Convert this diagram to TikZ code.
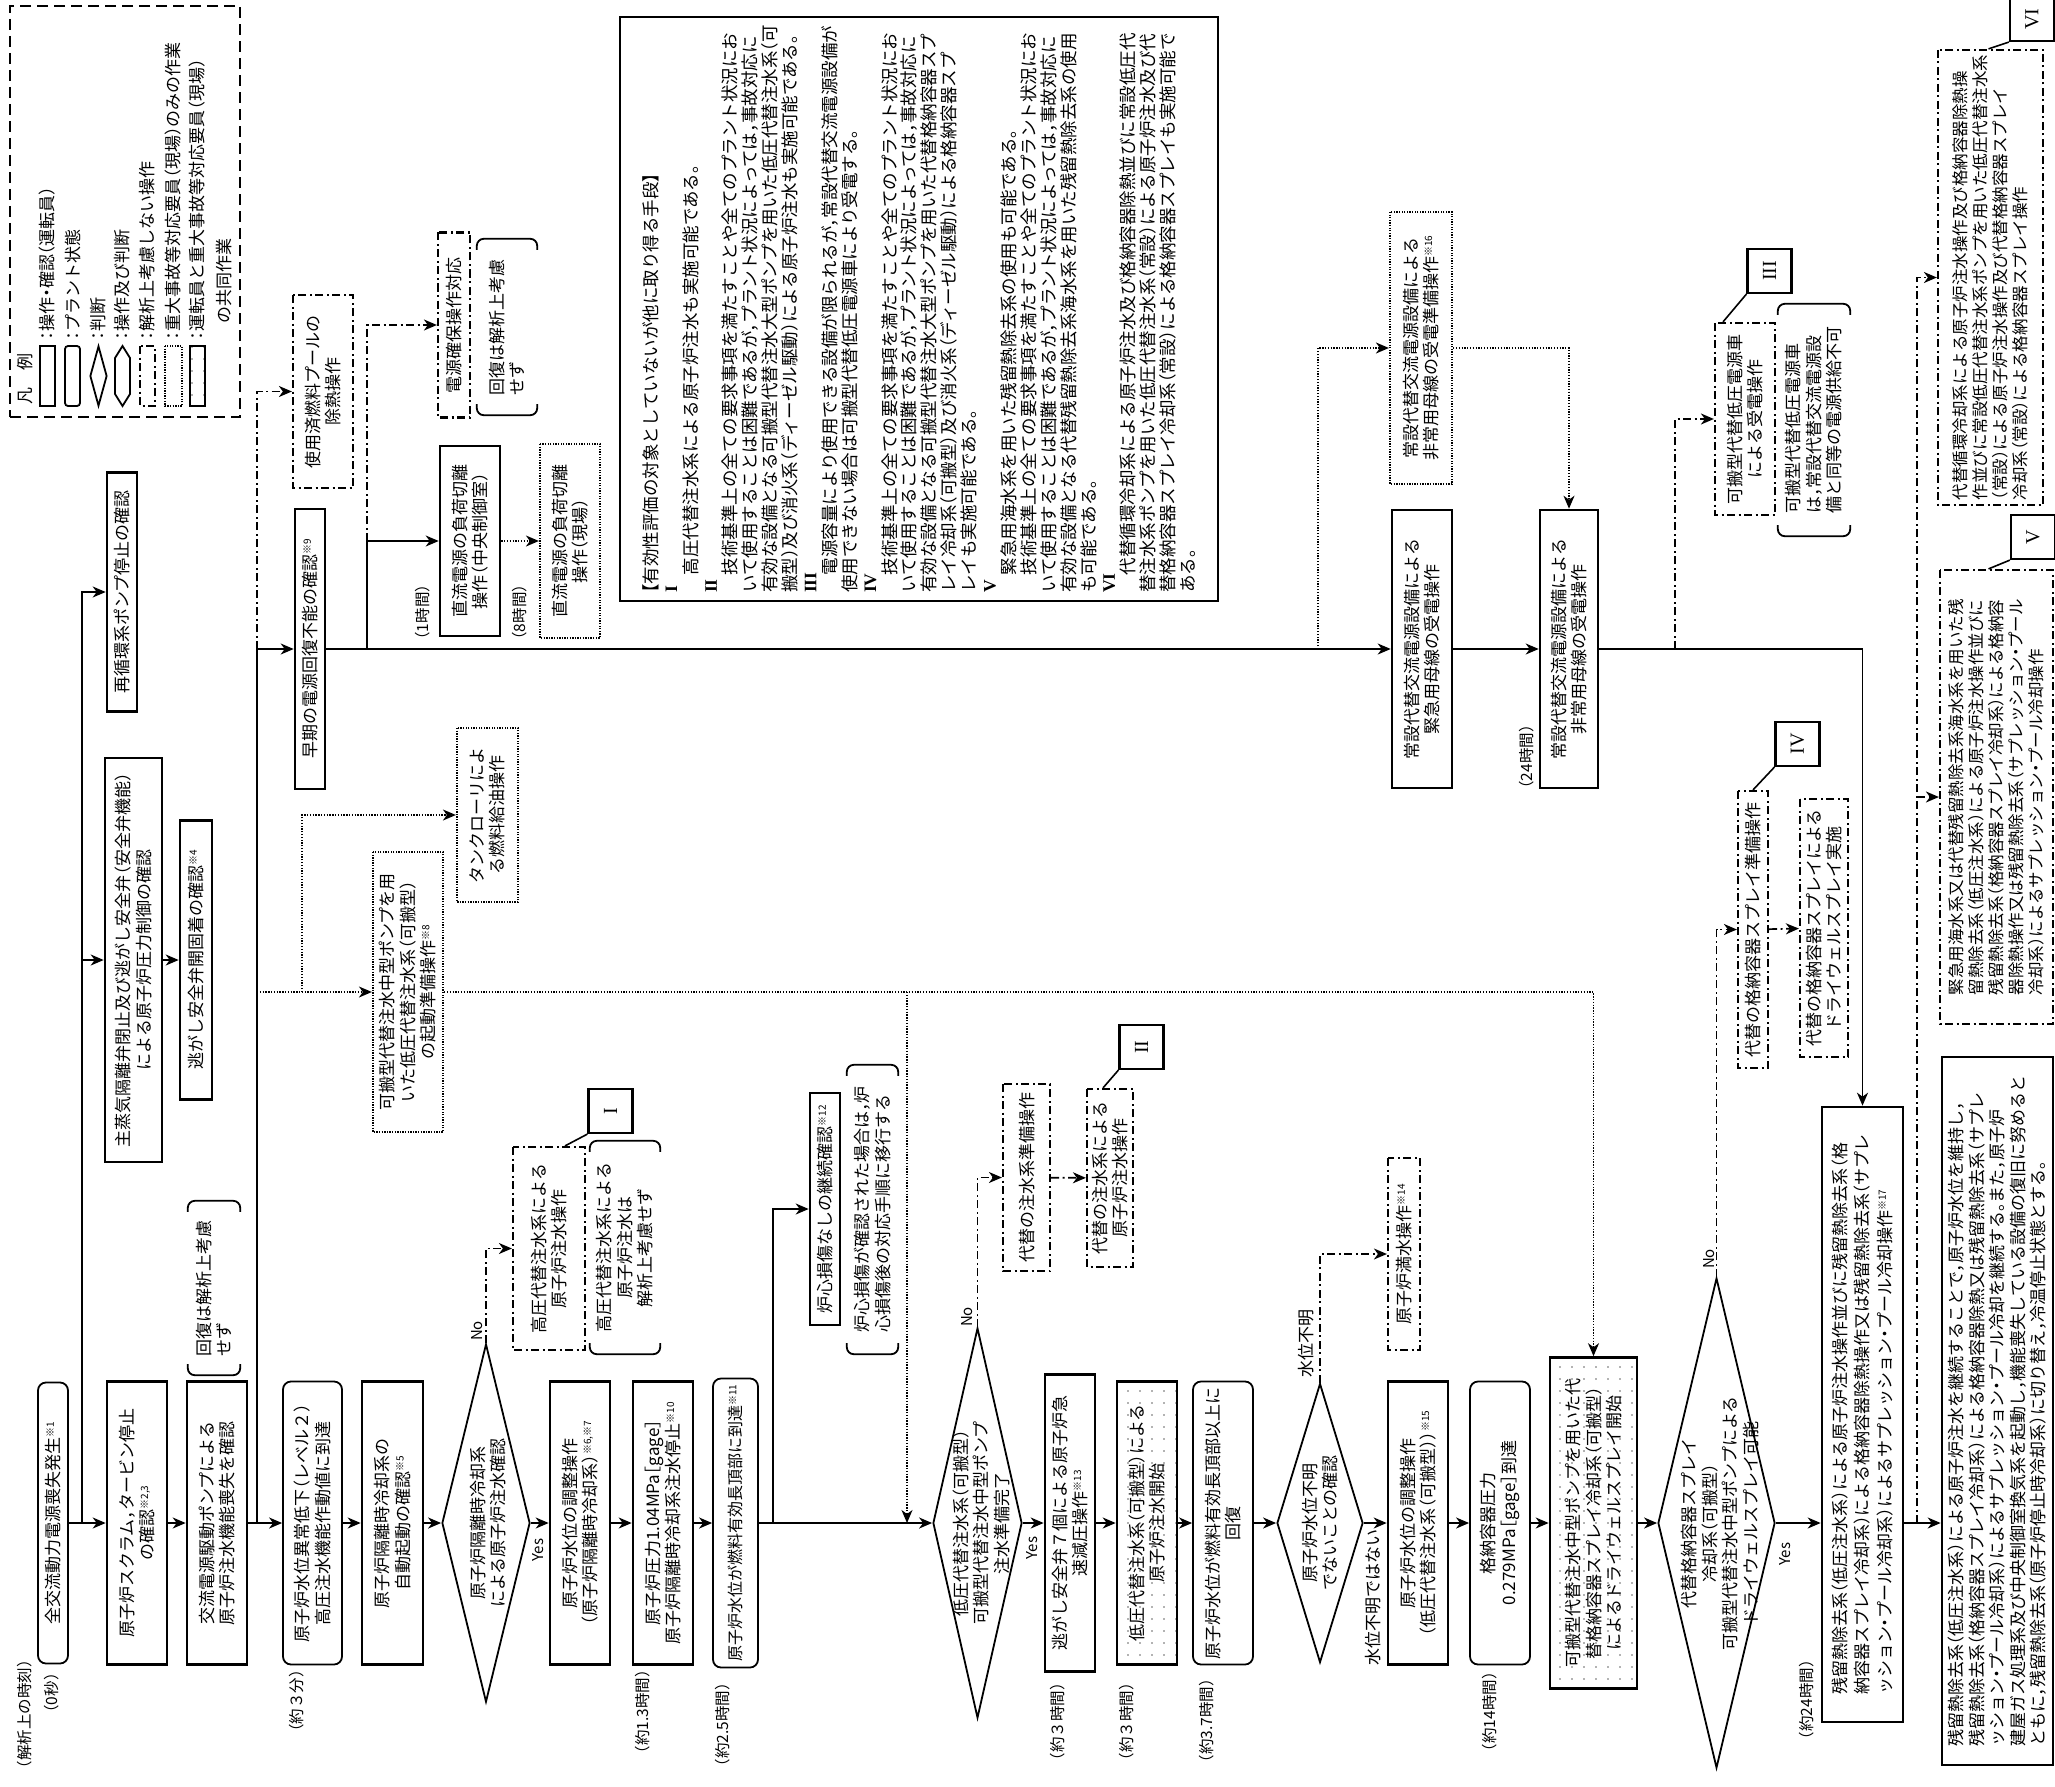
\documentclass[tikz,border=0pt]{standalone}
\usepackage{fontspec}
\setmainfont[RawFeature=+halt]{Noto Sans CJK JP}
\newfontfamily\romfont{Liberation Serif}
\usetikzlibrary{arrows.meta,shapes.geometric,patterns.meta}
\newcommand\mysup[1]{\raisebox{0.6ex}{\fontsize{10}{10}\selectfont #1}}
\newcommand\mybrk[1]{%
 \draw[brk] ([yshift=-11pt]#1.north east) -- (#1.north east) -- (#1.south east) -- ([yshift=-11pt]#1.south east);
 \draw[brk] ([yshift=11pt]#1.north west) -- (#1.north west) -- (#1.south west) -- ([yshift=11pt]#1.south west);}
\tikzset{
 fs/.style={font=\fontsize{17}{20.5}\selectfont},
 sz/.style 2 args={minimum width=#1pt,minimum height=#2pt},
 base/.style={rotate=90, align=center, inner sep=2pt, fs},
 op/.style={base, draw, line width=2.6pt},
 ps/.style={base, draw, line width=1.8pt, rounded corners=8pt},
 na/.style={base, draw, line width=2.2pt, dash pattern=on 8pt off 3.5pt on 2pt off 3.5pt},
 fw/.style={base, draw, line width=2.2pt, dash pattern=on 1.3pt off 1.3pt},
 jt/.style={base, draw, line width=2.6pt, pattern={Dots[distance=12pt,radius=0.8pt]}, pattern color=black!60},
 dm/.style={draw, diamond, rotate=90, line width=1.8pt, inner sep=0pt, aspect=4},
 dtx/.style={rotate=90, align=center, inner sep=0pt, fs},
 note/.style={base},
 co/.style={draw, line width=2.2pt, minimum width=44pt, minimum height=44pt, inner sep=0pt, rotate=90, font=\romfont\fontsize{20}{20}\selectfont},
 tl/.style={rotate=90, inner sep=0pt, font=\fontsize{15.5}{18}\selectfont},
 lab/.style={rotate=90, inner sep=0pt, font=\fontsize{15}{15}\selectfont},
 arr/.style={line width=1.7pt, -{Stealth[length=13pt,width=11pt,inset=4pt]}},
 nal/.style={arr, dash pattern=on 8pt off 3.5pt on 2pt off 3.5pt},
 fwl/.style={arr, line width=1.5pt, dash pattern=on 1.3pt off 1.5pt},
 cl/.style={line width=1.6pt},
 brk/.style={line width=1.8pt, rounded corners=7pt},
}
\begin{document}
\begin{tikzpicture}[x=1pt,y=-1pt]
\fill[white] (0,0) rectangle (2055,1787);
\useasboundingbox (0,0) rectangle (2055,1787);

% ---------- legend ----------
\node[draw, line width=2.2pt, dash pattern=on 11pt off 6pt, minimum width=230pt, minimum height=411pt, inner sep=0pt] (LG) at (125,211.5) {};
\node[tl, fs, anchor=west] (LGt) at (25,405) {凡　例};
\node[op, sz={60}{15}, inner sep=0pt] (S1) at (47.5,376) {};
\node[ps, sz={60}{15}, inner sep=0pt, rounded corners=3pt] (S2) at (72.5,376) {};
\node[dm, sz={60}{17}] (S3) at (98.5,376) {};
\draw[line width=1.8pt] (122.5,346) -- (130,358) -- (130,394) -- (122.5,406) -- (115,394) -- (115,358) -- cycle;
\node[na, sz={60}{15}, inner sep=0pt] (S5) at (147.5,376) {};
\node[fw, sz={60}{17}, inner sep=0pt] (S6) at (173.5,376) {};
\node[jt, sz={60}{15}, inner sep=0pt] (S7) at (197.5,376) {};
\node[tl, fs, anchor=west] (L1) at (47.5,340) {：操作・確認（運転員）};
\node[tl, fs, anchor=west] (L2) at (72.5,340) {：プラント状態};
\node[tl, fs, anchor=west] (L3) at (98.5,340) {：判断};
\node[tl, fs, anchor=west] (L4) at (122.5,340) {：操作及び判断};
\node[tl, fs, anchor=west] (L5) at (147.5,340) {：解析上考慮しない操作};
\node[tl, fs, anchor=west] (L6) at (173.5,340) {：重大事故等対応要員（現場）のみの作業};
\node[tl, fs, anchor=west] (L7) at (197.5,340) {：運転員と重大事故等対応要員（現場）};
\node[tl, fs, anchor=west] (L8) at (224,324) {の共同作業};

% ---------- main row ----------
\node[ps, sz={281}{30}] (A1) at (53,1523) {全交流動力電源喪失発生\mysup{※1}};
\node[op, sz={283}{60}] (A2) at (137,1523) {原子炉スクラム，タービン停止\\の確認\mysup{※2,3}};
\node[op, sz={283}{60}] (A3) at (217,1523) {交流電源駆動ポンプによる\\原子炉注水機能喪失を確認};
\node[ps, sz={283}{59}] (A4) at (312.5,1523) {原子炉水位異常低下（レベル２）\\高圧注水機能作動値に到達};
\node[op, sz={283}{61}] (A5) at (392.5,1523) {原子炉隔離時冷却系の\\自動起動の確認\mysup{※5}};
\node[dm, sz={358}{88}] (D1) at (486,1523) {};
\node[dtx] (D1t) at (488,1523) {原子炉隔離時冷却系\\による原子炉注水確認};
\node[op, sz={283}{60}] (A6) at (580,1523) {原子炉水位の調整操作\\（原子炉隔離時冷却系）\mysup{※6,※7}};
\node[op, sz={283}{60}] (A7) at (663,1523) {原子炉圧力1.04MPa［gage］\\原子炉隔離時冷却系注水停止\mysup{※10}};
\node[ps, sz={289}{45}, font=\fontsize{16}{19}\selectfont] (A8) at (735.5,1523) {原子炉水位が燃料有効長頂部に到達\mysup{※11}};
\node[dm, sz={390}{89}] (D2) at (977.5,1523) {};
\node[dtx] (D2t) at (981,1523) {低圧代替注水系（可搬型）\\可搬型代替注水中型ポンプ\\注水準備完了};
\node[op, sz={297}{50}] (E1) at (1070,1523) {逃がし安全弁７個による原子炉急\\速減圧操作\mysup{※13}};
\node[jt, sz={283}{60}] (E2) at (1147,1523) {低圧代替注水系（可搬型）による\\原子炉注水開始};
\node[ps, sz={283}{60}] (E3) at (1223,1523) {原子炉水位が燃料有効長頂部以上に\\回復};
\node[dm, sz={279}{86}] (D3) at (1320,1523) {};
\node[dtx] (D3t) at (1320,1523) {原子炉水位不明\\でないことの確認};
\node[op, sz={283}{60}] (E5) at (1418,1523) {原子炉水位の調整操作\\（低圧代替注水系（可搬型））\mysup{※15}};
\node[ps, sz={283}{60}] (E6) at (1500,1523) {格納容器圧力\\0.279MPa［gage］到達};
\node[jt, sz={331}{87}] (D6) at (1593.5,1523) {可搬型代替注水中型ポンプを用いた代\\替格納容器スプレイ冷却系（可搬型）\\によるドライウェルスプレイ開始};
\node[dm, sz={490}{117}] (D5) at (1716.5,1523) {};
\node[dtx] (D5t) at (1720,1523) {代替格納容器スプレイ\\冷却系（可搬型）\\可搬型代替注水中型ポンプによる\\ドライウェルスプレイ可能};
\node[op, sz={615}{81}, align=left, font=\fontsize{17}{22.5}\selectfont] (F1) at (1862.5,1414.5) {残留熱除去系（低圧注水系）による原子炉注水操作並びに残留熱除去系（格\\納容器スプレイ冷却系）による格納容器除熱操作又は残留熱除去系（サプレ\\ッション・プール冷却系）によるサプレッション・プール冷却操作\mysup{※17}};
\node[op, sz={708}{111}, align=left, font=\fontsize{17}{20.5}\selectfont] (F2) at (1997.5,1411) {残留熱除去系（低圧注水系）による原子炉注水を継続することで，原子炉水位を維持し，\\残留熱除去系（格納容器スプレイ冷却系）による格納容器除熱又は残留熱除去系（サプレ\\ッション・プール冷却系）によるサプレッション・プール冷却を継続する。また，原子炉\\建屋ガス処理系及び中央制御室換気系を起動し，機能喪失している設備の復旧に努めると\\ともに，残留熱除去系（原子炉停止時冷却系）に切り替え，冷温停止状態とする。};

% ---------- time labels ----------
\node[tl, anchor=east] (T0a) at (25,1660) {（解析上の時刻）};
\node[tl, anchor=east] (T0) at (52,1673) {（0秒）};
\node[tl, anchor=east] (T1) at (297,1670) {（約３分）};
\node[tl, anchor=east] (T2) at (643,1670) {（約1.3時間）};
\node[tl, anchor=east] (T3) at (723,1683) {（約2.5時間）};
\node[tl, anchor=east] (T4) at (1058,1683) {（約３時間）};
\node[tl, anchor=east] (T5) at (1127,1683) {（約３時間）};
\node[tl, anchor=east] (T6) at (1207,1679) {（約3.7時間）};
\node[tl, anchor=east] (T7) at (1490,1672) {（約14時間）};
\node[tl, anchor=east] (T8) at (1807,1660) {（約24時間）};
\node[tl, anchor=west] (T9) at (423,640) {（1時間）};
\node[tl, anchor=west] (T10) at (520,640) {（8時間）};
\node[tl, anchor=west] (T11) at (1527,789) {（24時間）};

% ---------- upper / branch nodes ----------
\node[op, sz={404}{57}] (A9) at (133.5,960) {主蒸気隔離弁閉止及び逃がし安全弁（安全弁機能）\\による原子炉圧力制御の確認};
\node[op, sz={279}{32}] (A10) at (196,960) {逃がし安全弁開固着の確認\mysup{※4}};
\node[op, sz={239}{30}] (A11) at (122,592) {再循環系ポンプ停止の確認};
\node[note, sz={174}{52}, align=left] (R1) at (214,1288) {回復は解析上考慮\\せず};
\node[na, sz={203}{72}] (B1) at (549,1248.5) {高圧代替注水系による\\原子炉注水操作};
\node[note, sz={213}{70}] (R2) at (625,1247.5) {高圧代替注水系による\\原子炉注水は\\解析上考慮せず};
\node[co] (CI) at (610.5,1111) {I};
\node[op, sz={232}{30}] (B2) at (825,1209) {炉心損傷なしの継続確認\mysup{※12}};
\node[note, sz={289}{51}, align=left] (R3) at (872.5,1209.5) {炉心損傷が確認された場合は，炉\\心損傷後の対応手順に移行する};
\node[fw, sz={280}{70}] (B3) at (408,992) {可搬型代替注水中型ポンプを用\\いた低圧代替注水系（可搬型）\\の起動準備操作\mysup{※8}};
\node[fw, sz={174}{61}] (B4) at (487.5,815) {タンクローリによ\\る燃料給油操作};
\node[op, sz={280}{30}] (B5) at (310,649) {早期の電源回復不能の確認\mysup{※9}};
\node[na, sz={193}{60}] (B7) at (323,391.5) {使用済燃料プールの\\除熱操作};
\node[op, sz={190}{60}] (B6) at (470,541) {直流電源の負荷切離\\操作（中央制御室）};
\node[na, sz={185}{32}] (B8) at (454,325) {電源確保操作対応};
\node[note, sz={176}{60}, align=left] (R4) at (507,327) {回復は解析上考慮\\せず};
\node[fw, sz={194}{60}] (B9) at (570,541) {直流電源の負荷切離\\操作（現場）};

\node[base, draw, line width=2.6pt, sz={584}{598}, align=left, font=\fontsize{17.5}{19.9}\selectfont] (TX) at (919,309) {【有効性評価の対象としていないが他に取り得る手段】\\
{\romfont\bfseries I}\\
　高圧代替注水系による原子炉注水も実施可能である。\\
{\romfont\bfseries II}\\
　技術基準上の全ての要求事項を満たすことや全てのプラント状況にお\\
いて使用することは困難であるが，プラント状況によっては，事故対応に\\
有効な設備となる可搬型代替注水大型ポンプを用いた低圧代替注水系（可\\
搬型）及び消火系（ディーゼル駆動）による原子炉注水も実施可能である。\\
{\romfont\bfseries III}\\
　電源容量により使用できる設備が限られるが，常設代替交流電源設備が\\
使用できない場合は可搬型代替低圧電源車により受電する。\\
{\romfont\bfseries IV}\\
　技術基準上の全ての要求事項を満たすことや全てのプラント状況にお\\
いて使用することは困難であるが，プラント状況によっては，事故対応に\\
有効な設備となる可搬型代替注水大型ポンプを用いた代替格納容器スプ\\
レイ冷却系（可搬型）及び消火系（ディーゼル駆動）による格納容器スプ\\
レイも実施可能である。\\
{\romfont\bfseries V}\\
　緊急用海水系を用いた残留熱除去系の使用も可能である。\\
　技術基準上の全ての要求事項を満たすことや全てのプラント状況にお\\
いて使用することは困難であるが，プラント状況によっては，事故対応に\\
有効な設備となる代替残留熱除去系海水系を用いた残留熱除去系の使用\\
も可能である。\\
{\romfont\bfseries VI}\\
　代替循環冷却系による原子炉注水及び格納容器除熱並びに常設低圧代\\
替注水系ポンプを用いた低圧代替注水系（常設）による原子炉注水及び代\\
替格納容器スプレイ冷却系（常設）による格納容器スプレイも実施可能で\\
ある。};

\node[fw, sz={272}{62}] (C0) at (1421,348) {常設代替交流電源設備による\\非常用母線の受電準備操作\mysup{※16}};
\node[op, sz={278}{60}] (C1) at (1422,649) {常設代替交流電源設備による\\緊急用母線の受電操作};
\node[op, sz={278}{58}] (C2) at (1569,649) {常設代替交流電源設備による\\非常用母線の受電操作};
\node[na, sz={192}{60}] (C3) at (1745,419) {可搬型代替低圧電源車\\による受電操作};
\node[note, sz={232}{72}, align=left] (R5) at (1814,420) {可搬型代替低圧電源車\\は，常設代替交流電源設\\備と同等の電源供給不可};
\node[co] (CIII) at (1769.5,271) {III};
\node[na, sz={455}{105}, align=left, font=\fontsize{16.5}{20}\selectfont] (C4) at (1990.5,277.5) {代替循環冷却系による原子炉注水操作及び格納容器除熱操\\作並びに常設低圧代替注水系ポンプを用いた低圧代替注水系\\（常設）による原子炉注水操作及び代替格納容器スプレイ\\冷却系（常設）による格納容器スプレイ操作};
\node[co] (CVI) at (2032,19) {VI};
\node[na, sz={454}{113}, align=left, font=\fontsize{16.5}{20}\selectfont] (C5) at (1996.5,797) {緊急用海水系又は代替残留熱除去系海水系を用いた残\\留熱除去系（低圧注水系）による原子炉注水操作並びに\\残留熱除去系（格納容器スプレイ冷却系）による格納容\\器除熱操作又は残留熱除去系（サプレッション・プール\\冷却系）によるサプレッション・プール冷却操作};
\node[co] (CV) at (2033,537) {V};
\node[na, sz={277}{30}] (C6) at (1753,929.5) {代替の格納容器スプレイ準備操作};
\node[na, sz={258}{48}] (C7) at (1824,928) {代替の格納容器スプレイによる\\ドライウェルスプレイ実施};
\node[co] (CIV) at (1797.5,744) {IV};
\node[na, sz={192}{32}] (E4) at (1404,1254) {原子炉満水操作\mysup{※14}};
\node[na, sz={187}{47}] (E7) at (1026.5,1177.5) {代替の注水系準備操作};
\node[na, sz={178}{46}] (E8) at (1110,1178) {代替の注水系による\\原子炉注水操作};
\node[co] (CII) at (1141.5,1047) {II};

% ---------- Yes / No labels ----------
\node[lab] (nD1) at (477,1331) {No};
\node[lab] (yD1) at (538,1550) {Yes};
\node[lab] (nD2) at (967,1317) {No};
\node[lab] (yD2) at (1032,1548) {Yes};
\node[lab, fs] (wD3) at (1306,1343) {水位不明};
\node[lab, fs] (wD3b) at (1373,1597) {水位不明ではない};
\node[lab] (nD5) at (1709,1259) {No};
\node[lab] (yD5) at (1785,1554) {Yes};

% ---------- brackets ----------
\mybrk{R1}\mybrk{R2}\mybrk{R3}\mybrk{R4}\mybrk{R5}

% ---------- coordinates ----------
\coordinate (j1) at (82,1523);
\coordinate (j2) at (257,1523);
\coordinate (j3) at (257,649);
\coordinate (j4) at (257,992);
\coordinate (j5) at (302,992);
\coordinate (j6) at (907,992);
\coordinate (j6b) at (907,1523);
\coordinate (j7) at (367,649);
\coordinate (j8) at (367,541);
\coordinate (j9) at (1318,649);
\coordinate (j10) at (1675,649);
\coordinate (j11) at (1917,1523);
\coordinate (j12) at (773,1523);

% ---------- main connectors ----------
\draw[arr] (A1) -- (A2);
\draw[arr] (A2) -- (A3);
\draw[arr] (A3) -- (A4);
\draw[arr] (A4) -- (A5);
\draw[arr] (A5) -- (D1);
\draw[arr] (D1) -- (A6);
\draw[arr] (A6) -- (A7);
\draw[arr] (A7) -- (A8);
\draw[arr] (A8) -- (D2);
\draw[arr] (D2) -- (E1);
\draw[arr] (E1) -- (E2);
\draw[arr] (E2) -- (E3);
\draw[arr] (E3) -- (D3);
\draw[arr] (D3) -- (E5);
\draw[arr] (E5) -- (E6);
\draw[arr] (E6) -- (D6);
\draw[arr] (D6) -- (D5);
\draw[arr] (D5.south) -- (F1.north |- D5.south);
\draw[arr] (F1.south |- D5.south) -- (F2.north |- D5.south);

% ---------- branches ----------
\draw[arr] (j1) |- (A11);
\draw[arr] (j1 |- A9) -- (A9);
\draw[arr] (A9) -- (A10);
\draw[arr] (j2) |- (B5);
\draw[nal] (j3) |- (B7);
\draw[fwl] (j4) -- (B3);
\draw[fwl] (j5) |- (B4);
\draw[fwl] (B3) -| (D6);
\draw[fwl] (j6) -- (j6b);
\draw[arr] (B5) -- (C1);
\draw[arr] (j7) |- (B6);
\draw[nal] (j8) |- (B8);
\draw[fwl] (B6) -- (B9);
\draw[arr] (C1) -- (C2);
\draw[arr] (C2) -| (F1);
\draw[fwl] (j9) |- (C0);
\draw[fwl] (C0) -| (C2);
\draw[nal] (j10) |- (C3);
\draw[nal] (j11) |- (C4);
\draw[nal] (j11 |- C5) -- (C5);
\draw[nal] (D5.east) |- (C6);
\draw[nal] (C6) -- (C7);
\draw[nal] (D1.east) |- (B1);
\draw[nal] (D2.east) |- (E7);
\draw[nal] (E7) -- (E8);
\draw[nal] (D3.east) |- (E4);
\draw[arr] (j12) |- (B2);

% ---------- callout lines ----------
\draw[cl] (CI.north west) -- ([xshift=16pt]B1.east);
\draw[cl] (CII.north west) -- ([xshift=-7pt]E8.east);
\draw[cl] (CIII.north west) -- ([xshift=-22pt]C3.east);
\draw[cl] (CIV.north west) -- (C6.east);
\draw[cl] (CV.north west) -- ([xshift=-8pt]C5.east);
\draw[cl] (CVI.north west) -- ([xshift=-2pt]C4.east);
\end{tikzpicture}
\end{document}
